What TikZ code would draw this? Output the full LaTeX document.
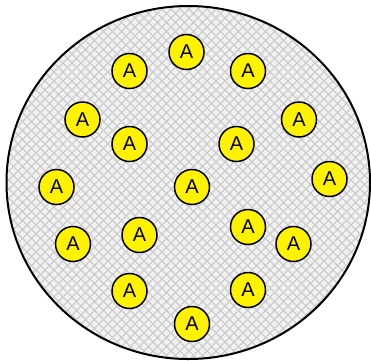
\documentclass[tikz,border=0pt]{standalone}
\usepackage{fontspec}
\setmainfont{Liberation Sans}
\definecolor{fondo}{HTML}{F2F2F2}
\definecolor{trama}{HTML}{CDCDCD}
\tikzset{bola/.style={circle,draw,line width=1.5pt,fill=yellow,minimum size=35pt,inner sep=0pt,font=\fontsize{20}{20}\selectfont}}

\begin{document}
\begin{tikzpicture}[x=1pt,y=-1pt]

\useasboundingbox (0,0) rectangle (371,360);

\fill[fondo] (188.25,182.5) ellipse (181.75 and 176.5); % Conjunto

\begin{scope}
\clip (188.25,182.5) ellipse (181.75 and 176.5); % recorte
\foreach \d in {-369,-360,...,378} {
  \draw[trama,line width=1.2pt] (\d,0) -- (\d+360,360);
  \draw[trama,line width=1.2pt] (\d+360,0) -- (\d,360);
}
\end{scope}

\draw[line width=2pt] (188.25,182.5) ellipse (181.75 and 176.5);

\node[bola] (a1) at (186.5,52) {A};
\node[bola] (a2) at (129.5,71) {A};
\node[bola] (a3) at (248,71) {A};
\node[bola] (a4) at (82.5,119.5) {A};
\node[bola] (a5) at (299,119.5) {A};
\node[bola] (a6) at (129.5,144) {A};
\node[bola] (a7) at (236.5,144) {A};
\node[bola] (a8) at (329.5,179) {A};
\node[bola] (a9) at (56.5,187) {A};
\node[bola] (a10) at (192,187) {A};
\node[bola] (a11) at (248,227) {A};
\node[bola] (a12) at (139.5,235) {A};
\node[bola] (a13) at (73,244) {A};
\node[bola] (a14) at (293.5,244) {A};
\node[bola] (a15) at (129.5,291) {A};
\node[bola] (a16) at (248,290) {A};
\node[bola] (a17) at (192,324) {A};

\end{tikzpicture}
\end{document}
